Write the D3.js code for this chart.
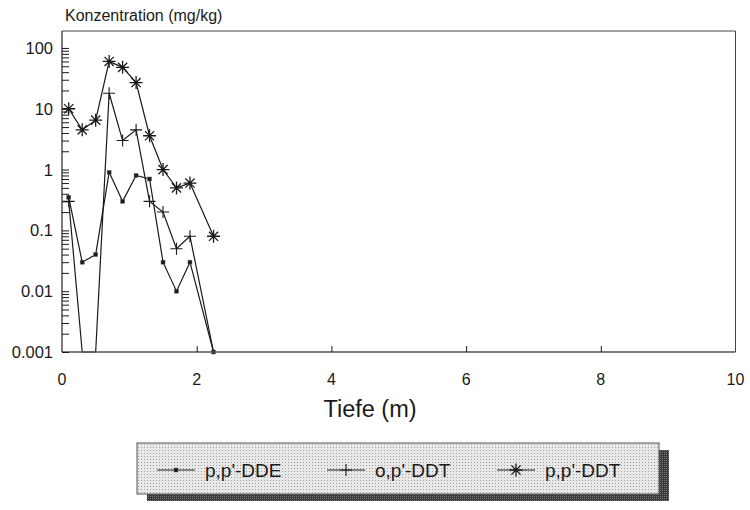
<!DOCTYPE html>
<html>
<head>
<meta charset="utf-8">
<script src="https://cdn.jsdelivr.net/npm/d3@7"></script>
<style>
  body { margin: 0; background: #fff; }
  svg { display: block; font-family: "Liberation Sans", Arial, sans-serif; }
</style>
</head>
<body>
<svg id="chart" width="750" height="510"></svg>
<script>
// depth (m) of each sample
const depths = [0.1, 0.3, 0.5, 0.7, 0.9, 1.1, 1.3, 1.5, 1.7, 1.9, 2.25]
// concentrations in mg/kg; 0.001 = not detected (drawn on the axis floor)
const ppDDE = [0.35, 0.03, 0.04, 0.9, 0.3, 0.8, 0.7, 0.03, 0.01, 0.03, 0.001]
const opDDT = [0.3, 0.001, 0.001, 18, 3, 4.5, 0.3, 0.2, 0.05, 0.08, 0.001]
const ppDDT = [10, 4.5, 6.5, 60, 48, 27, 3.6, 1.0, 0.5, 0.6, 0.08]

const xTicks = [0, 2, 4, 6, 8, 10]
const yTicks = [0.001, 0.01, 0.1, 1, 10, 100]
const yTickLabels = ["0.001", "0.01", "0.1", "1", "10", "100"]

const SERIES = [
  { name: "p,p'-DDE", values: ppDDE, marker: "square" },
  { name: "o,p'-DDT", values: opDDT, marker: "plus" },
  { name: "p,p'-DDT", values: ppDDT, marker: "star" },
]

const svg = d3.select("#chart")
const margin = { left: 62, right: 14, top: 31, bottom: 158 }
const W = 750, H = 510
const x = d3.scaleLinear().domain([0, 10]).range([margin.left, W - margin.right - 0.5])
const y = d3.scaleLog().domain([0.001, 190]).range([352, margin.top]).clamp(true)
const ink = "#1a1a1a"

function drawMarker(g, type, cx, cy) {
  if (type === "square") {
    g.append("rect").attr("x", cx - 2).attr("y", cy - 2).attr("width", 4).attr("height", 4)
      .attr("fill", ink).attr("stroke", "#666").attr("stroke-width", 0.5)
  } else if (type === "plus") {
    g.append("path").attr("d", `M${cx - 6},${cy}H${cx + 6}M${cx},${cy - 6}V${cy + 6}`)
      .attr("stroke", ink).attr("stroke-width", 1.1)
  } else {
    const r = 6.5, r2 = 4.6
    g.append("path")
      .attr("d", `M${cx - r},${cy}H${cx + r}M${cx},${cy - r}V${cy + r}M${cx - r2},${cy - r2}L${cx + r2},${cy + r2}M${cx - r2},${cy + r2}L${cx + r2},${cy - r2}`)
      .attr("stroke", ink).attr("stroke-width", 1.3)
  }
}

// series first, axes drawn on top so floor segments merge with the axis
const line = d3.line().x(d => x(d[0])).y(d => y(d[1]))
const plot = svg.append("g")
SERIES.forEach(s => {
  const pts = depths.map((d, i) => [d, s.values[i]])
  plot.append("path").attr("d", line(pts)).attr("fill", "none")
    .attr("stroke", ink).attr("stroke-width", 1.2)
  const mg = plot.append("g")
  pts.forEach(p => {
    // points at the detection floor get no marker, except the DDE square at the end
    if (p[1] <= 0.001 && !(s.marker === "square" && p[0] > 2)) return
    drawMarker(mg, s.marker, x(p[0]), y(p[1]))
  })
})

// frame: top and right edges
svg.append("path")
  .attr("d", `M${x(0)},${y.range()[1]}H${x(10)}V${y(0.001)}`)
  .attr("fill", "none").attr("stroke", "#444").attr("stroke-width", 1)

// x axis, ticks pointing up into the plot
const xAxis = svg.append("g")
  .attr("transform", `translate(0,${y(0.001)})`)
  .call(d3.axisTop(x).tickValues(xTicks.filter(t => t > 0 && t < 10)).tickSize(6).tickFormat(""))
xAxis.select(".domain").attr("d", `M${x(0)},0H${x(10)}`).attr("stroke", "#555").attr("stroke-width", 1.3)
xAxis.selectAll(".tick line").attr("stroke", ink)
svg.append("g").selectAll("text").data(xTicks).join("text")
  .attr("x", d => x(d)).attr("y", y(0.001) + 33)
  .attr("text-anchor", "middle").attr("font-size", 16).attr("fill", ink)
  .text(d => d)

// y axis: log minor ticks inside the plot
const minor = []
for (let e = -3; e <= 2; e++) for (let m = 1; m <= 9; m++) {
  const v = m * Math.pow(10, e)
  if (v <= 190) minor.push(v)
}
const yAxis = svg.append("g")
  .attr("transform", `translate(${x(0)},0)`)
  .call(d3.axisRight(y).tickValues(minor).tickSize(7).tickFormat(""))
yAxis.select(".domain").attr("d", `M0,${y.range()[1]}V${y(0.001)}`).attr("stroke", "#333").attr("stroke-width", 1.3)
yAxis.selectAll(".tick line").attr("stroke", ink)
svg.append("g").selectAll("text").data(yTicks).join("text")
  .attr("x", 53).attr("y", d => y(d) + 6)
  .attr("text-anchor", "end").attr("font-size", 16.5).attr("fill", ink)
  .text((d, i) => yTickLabels[i])

// axis titles
svg.append("text").attr("x", 65).attr("y", 21).attr("font-size", 16).attr("fill", ink)
  .text("Konzentration (mg/kg)")
svg.append("text").attr("x", 370).attr("y", 417).attr("text-anchor", "middle")
  .attr("font-size", 23.5).attr("fill", ink).text("Tiefe (m)")

// legend with stippled fill and drop shadow
const defs = svg.append("defs")
const pat = defs.append("pattern").attr("id", "stipple").attr("width", 3).attr("height", 3)
  .attr("patternUnits", "userSpaceOnUse")
pat.append("rect").attr("width", 3).attr("height", 3).attr("fill", "#e8e8e8")
pat.append("rect").attr("width", 1).attr("height", 1).attr("fill", "#a0a0a0")
const patD = defs.append("pattern").attr("id", "stippleDark").attr("width", 2).attr("height", 2)
  .attr("patternUnits", "userSpaceOnUse")
patD.append("rect").attr("width", 2).attr("height", 2).attr("fill", "#3a3a3a")
patD.append("rect").attr("width", 1).attr("height", 1).attr("fill", "#777")

const lg = { x: 137, y: 443, w: 522, h: 51, dx: 10, dy: 7 }
svg.append("rect").attr("x", lg.x + lg.dx).attr("y", lg.y + lg.dy).attr("width", lg.w).attr("height", lg.h)
  .attr("fill", "url(#stippleDark)")
svg.append("rect").attr("x", lg.x).attr("y", lg.y).attr("width", lg.w).attr("height", lg.h)
  .attr("fill", "url(#stipple)").attr("stroke", "#555").attr("stroke-width", 1)

const legendX = d3.scalePoint().domain(SERIES.map(s => s.name)).range([157, 497])
SERIES.forEach(s => {
  const lx = legendX(s.name), ly = 470
  const g = svg.append("g")
  g.append("line").attr("x1", lx).attr("x2", lx + 38).attr("y1", ly).attr("y2", ly)
    .attr("stroke", ink).attr("stroke-width", 1)
  drawMarker(g, s.marker, lx + 19, ly)
  g.append("text").attr("x", lx + 48).attr("y", ly + 7).attr("font-size", 19).attr("fill", ink).text(s.name)
})
</script>
</body>
</html>
